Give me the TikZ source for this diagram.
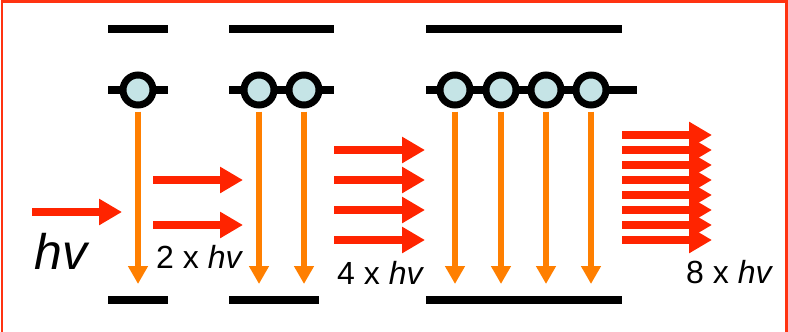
\documentclass[tikz,border=0pt]{standalone}
\usepackage{fontspec}
\setmainfont{Liberation Sans}
\usetikzlibrary{arrows.meta}
\definecolor{framered}{HTML}{FF3311}
\definecolor{photonred}{HTML}{FF2400}
\definecolor{emitorange}{HTML}{FF7F00}
\definecolor{atomfill}{HTML}{C5E4E6}
\tikzset{
  level/.style={line width=7.5pt, black},
  atom/.style={circle, draw=black, line width=7pt, fill=atomfill, minimum size=30pt, inner sep=0pt},
  emit/.style={line width=5.5pt, emitorange, -{Triangle[length=18pt,width=19pt]}},
  photon/.style={line width=8pt, photonred, -{Triangle[length=23pt,width=25pt]}},
  lbl/.style={inner sep=0pt, anchor=base west, font=\fontsize{32}{32}\selectfont},
}
\begin{document}
\begin{tikzpicture}[x=1pt,y=-1pt]
\useasboundingbox (0,0) rectangle (788,332);
% frame (bottom edge cut off)
\draw[framered, line width=2.5pt] (2,340) -- (2,1.5) -- (786.5,1.5) -- (786.5,340);

% energy levels
\draw[level] (108,29) -- (168,29);
\draw[level] (108,90) -- (168,90);
\draw[level] (108,300) -- (168,300);
\draw[level] (229,29) -- (334,29);
\draw[level] (229,90) -- (334,90);
\draw[level] (229,300) -- (319,300);
\draw[level] (426,29) -- (622,29);
\draw[level] (426,90) -- (637,90);
\draw[level] (426,300) -- (622,300);

% atoms
\node[atom] (a1) at (138,90) {};
\node[atom] (b1) at (259,90) {};
\node[atom] (b2) at (304,90) {};
\node[atom] (c1) at (455,90) {};
\node[atom] (c2) at (501,90) {};
\node[atom] (c3) at (546,90) {};
\node[atom] (c4) at (591,90) {};

% emission arrows
\foreach \n in {a1,b1,b2,c1,c2,c3,c4}{
  \coordinate (\n-tip) at ([yshift=-194pt]\n.center);
  \draw[emit] ([yshift=-3pt]\n.south) -- (\n-tip);
}

% incoming photons
\draw[photon] (32,212) -- (122,212);
\foreach \y in {180,225}{ \draw[photon] (153,\y) -- (243,\y); }
\foreach \y in {150,180,210,240}{ \draw[photon] (334,\y) -- (425,\y); }
\foreach \y in {135,150,...,240}{ \draw[photon] (622,\y) -- (712,\y); }

% labels
\node[inner sep=0pt, anchor=base west, font=\fontsize{50}{50}\selectfont\itshape] (hv) at (34,269) {hv};
\node[lbl] (l2) at (156,268) {2 x \textit{hv}};
\node[lbl] (l4) at (337,284) {4 x \textit{hv}};
\node[lbl] (l8) at (686,283) {8 x \textit{hv}};
\end{tikzpicture}
\end{document}
